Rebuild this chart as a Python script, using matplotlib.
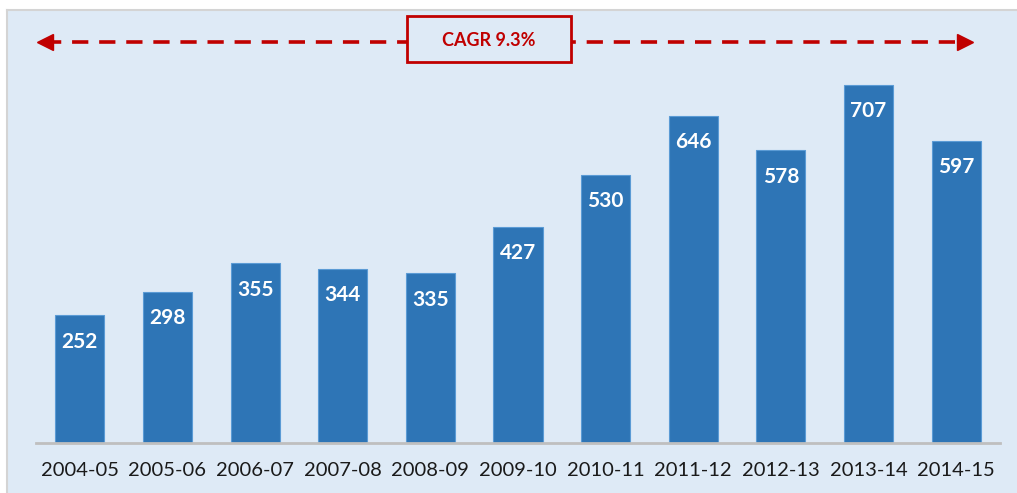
import matplotlib.pyplot as plt
from matplotlib.patches import Rectangle
from matplotlib.lines import Line2D

years = ["2004-05", "2005-06", "2006-07", "2007-08", "2008-09", "2009-10",
         "2010-11", "2011-12", "2012-13", "2013-14", "2014-15"]
values = [252, 298, 355, 344, 335, 427, 530, 646, 578, 707, 597]
cagr_label = "CAGR 9.3%"

bg = "#DEEAF6"
bar_color = "#2E75B6"
red = "#C00000"

plt.rcParams['font.family'] = ['Lato', 'DejaVu Sans']

W, H = 1017, 493
fig = plt.figure(figsize=(W / 100, H / 100), dpi=100)
fig.patch.set_facecolor("white")

# light blue panel behind everything, grey edge only at top and left
px, py = 7 / W, (H - 10) / H
fig.patches.append(Rectangle((px, 0), 1 - px, py, transform=fig.transFigure,
                             facecolor=bg, edgecolor="none", zorder=-5))
fig.add_artist(Line2D([px, 1], [py, py], transform=fig.transFigure,
                      color="#D4D4D4", lw=1.5, zorder=-4))
fig.add_artist(Line2D([px, px], [0, py], transform=fig.transFigure,
                      color="#D4D4D4", lw=1.5, zorder=-4))

ax = fig.add_axes([36 / W, 50 / H, 964 / W, 433 / H])
ax.set_facecolor("none")

x = range(len(years))
bars = ax.bar(x, values, width=0.56, color=bar_color, edgecolor="#5B9BD5",
              linewidth=0.8, zorder=2)
for xi, v in zip(x, values):
    ax.annotate(str(v), (xi, v), xytext=(0, -19), textcoords="offset points",
                ha="center", va="center", color="white", fontsize=15,
                fontweight="bold")

ax.set_xlim(-0.5, len(years) - 0.5)
ax.set_ylim(0, 855)
ax.set_xticks(list(x))
ax.set_xticklabels(years, fontsize=14.5, color="#1a1a1a")
ax.tick_params(axis="x", length=0, pad=14)
ax.set_yticks([])
for s in ["top", "right", "left"]:
    ax.spines[s].set_visible(False)
ax.spines["bottom"].set_color("#BFBFBF")
ax.spines["bottom"].set_linewidth(2)

# CAGR dashed double arrow
ya = (443 - 42) / 433
x0, x1 = -0.003 + 0.012, 0.976 - 0.012
ax.plot([x0, x1], [ya, ya], transform=ax.transAxes, color=red, lw=2.6,
        dashes=(4.5, 3), clip_on=False, zorder=3)
ax.plot([x0], [ya], marker="<", markersize=11, color=red,
        transform=ax.transAxes, clip_on=False, zorder=3)
ax.plot([x1], [ya], marker=">", markersize=11, color=red,
        transform=ax.transAxes, clip_on=False, zorder=3)
ax.text((489 - 36) / 964, ya + 0.003, cagr_label, transform=ax.transAxes,
        ha="center", va="center", color=red, fontsize=13, fontweight="bold",
        zorder=4)
ax.add_patch(Rectangle(((407 - 36) / 964, (443 - 62) / 433), 164 / 964, 46 / 433,
                       transform=ax.transAxes, facecolor=bg, edgecolor=red,
                       linewidth=2, clip_on=False, zorder=3.5))

fig.savefig("out.png", dpi=100, facecolor=fig.get_facecolor())
